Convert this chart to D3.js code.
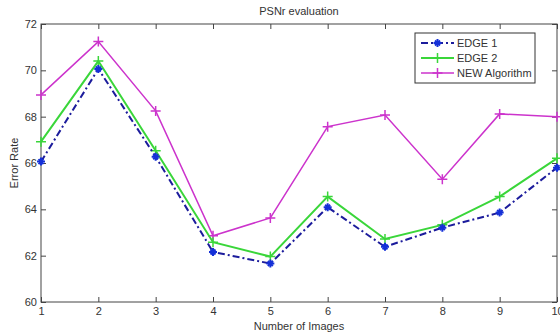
<!DOCTYPE html>
<html>
<head>
<meta charset="utf-8">
<script src="https://cdn.jsdelivr.net/npm/d3@7"></script>
<style>
  body { margin: 0; background: #fff; }
  text { font-family: "Liberation Sans", Arial, sans-serif; fill: #333; }
</style>
</head>
<body>
<script>
var images = [1, 2, 3, 4, 5, 6, 7, 8, 9, 10];
var edge1 = [66.06, 70.06, 66.27, 62.16, 61.66, 64.09, 62.38, 63.21, 63.86, 65.8];
var edge2 = [66.92, 70.4, 66.53, 62.58, 61.96, 64.55, 62.72, 63.33, 64.55, 66.2];
var newAlg = [68.94, 71.24, 68.25, 62.86, 63.63, 67.57, 68.07, 65.3, 68.12, 68.0];
var yTicks = [60, 62, 64, 66, 68, 70, 72];
var seriesNames = ["EDGE 1", "EDGE 2", "NEW Algorithm"];

var width = 560, height = 333;
var plotLeft = 41, plotRight = 557, plotTop = 24, plotBottom = 302;

var svg = d3.select("body").append("svg")
  .attr("width", width)
  .attr("height", height);

var x = d3.scaleLinear().domain([1, 10]).range([plotLeft, plotRight]);
var y = d3.scaleLinear().domain([60, 72]).range([plotBottom, plotTop]);

// box
svg.append("rect")
  .attr("x", plotLeft).attr("y", plotTop)
  .attr("width", plotRight - plotLeft).attr("height", plotBottom - plotTop)
  .attr("fill", "none").attr("stroke", "#444").attr("stroke-width", 1);

// axes (ticks point inward)
svg.append("g").attr("transform", "translate(0," + plotBottom + ")")
  .call(d3.axisBottom(x).tickValues(images).tickSizeInner(-5).tickSizeOuter(0).tickPadding(5));
svg.append("g").attr("transform", "translate(" + plotLeft + ",0)")
  .call(d3.axisLeft(y).tickValues(yTicks).tickSizeInner(-5).tickSizeOuter(0).tickPadding(4));
svg.append("g").attr("transform", "translate(0," + plotTop + ")")
  .call(d3.axisTop(x).tickValues(images).tickSizeInner(-5).tickSizeOuter(0).tickFormat(""));
svg.append("g").attr("transform", "translate(" + plotRight + ",0)")
  .call(d3.axisRight(y).tickValues(yTicks).tickSizeInner(-5).tickSizeOuter(0).tickFormat(""));

svg.selectAll(".domain").remove();
svg.selectAll(".tick line").attr("stroke", "#444");
svg.selectAll(".tick text").attr("font-size", 11).attr("fill", "#333");

// titles
svg.append("text").attr("x", 299).attr("y", 15).attr("text-anchor", "middle")
  .attr("font-size", 11).text("PSNr evaluation");
svg.append("text").attr("x", 299).attr("y", 330).attr("text-anchor", "middle")
  .attr("font-size", 11).text("Number of Images");
svg.append("text").attr("transform", "translate(18," + ((plotTop + plotBottom) / 2) + ") rotate(-90)")
  .attr("text-anchor", "middle").attr("font-size", 11).text("Error Rate");

var series = [
  { name: seriesNames[0], values: edge1, color: "#1c1c9c", mark: "#1530d8", dash: "7,3,2,3", width: 2, star: true },
  { name: seriesNames[1], values: edge2, color: "#3ad63a", mark: "#3ad63a", dash: null, width: 2, star: false },
  { name: seriesNames[2], values: newAlg, color: "#cc33cc", mark: "#cc33cc", dash: null, width: 1.5, star: false }
];

var line = d3.line()
  .x(function(d, i) { return x(images[i]); })
  .y(function(d) { return y(d); });

function marker(g, cx, cy, s) {
  var r = s.star ? 4 : 5;
  g.append("path")
    .attr("d", "M" + (cx - r) + "," + cy + "H" + (cx + r) + "M" + cx + "," + (cy - r) + "V" + (cy + r))
    .attr("stroke", s.mark).attr("stroke-width", s.star ? 2 : 1.5);
  if (s.star) {
    var k = 2.5;
    g.append("path")
      .attr("d", "M" + (cx - k) + "," + (cy - k) + "L" + (cx + k) + "," + (cy + k) +
                 "M" + (cx - k) + "," + (cy + k) + "L" + (cx + k) + "," + (cy - k))
      .attr("stroke", s.mark).attr("stroke-width", 2);
  }
}

series.slice().reverse().forEach(function(s) {
  var g = svg.append("g");
  g.append("path")
    .datum(s.values)
    .attr("d", line)
    .attr("fill", "none")
    .attr("stroke", s.color)
    .attr("stroke-width", s.width)
    .attr("stroke-dasharray", s.dash);
  s.values.forEach(function(v, i) {
    marker(g, x(images[i]), y(v), s);
  });
});

// legend
var lg = svg.append("g");
lg.append("rect").attr("x", 415).attr("y", 33).attr("width", 120).attr("height", 50)
  .attr("fill", "#fff").attr("stroke", "#333").attr("stroke-width", 1);
series.forEach(function(s, i) {
  var ly = 43 + i * 15;
  lg.append("line").attr("x1", 421).attr("x2", 454).attr("y1", ly).attr("y2", ly)
    .attr("stroke", s.color).attr("stroke-width", s.width)
    .attr("stroke-dasharray", s.dash);
  marker(lg, 437.5, ly, s);
  lg.append("text").attr("x", 457).attr("y", ly + 4).attr("font-size", 11).text(s.name);
});
</script>
</body>
</html>
